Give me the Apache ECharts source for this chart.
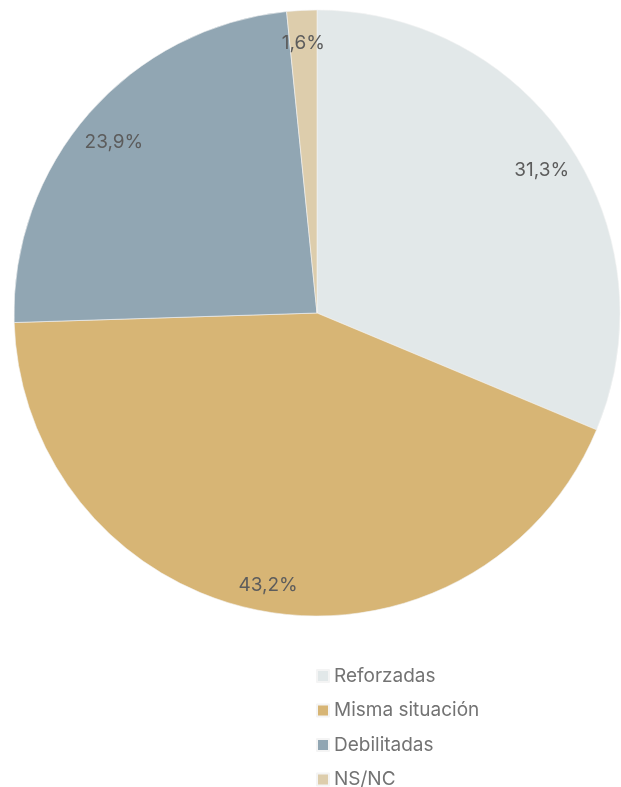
<!DOCTYPE html>
<html><head><meta charset="utf-8">
<script src="https://cdn.jsdelivr.net/npm/echarts@6/dist/echarts.min.js"></script>
<style>html,body{margin:0;padding:0;background:#fff}#c{width:621px;height:787px}</style>
</head><body><div id="c"></div>
<script>
const categories = ['Reforzadas', 'Misma situación', 'Debilitadas', 'NS/NC'];
const values = [31.3, 43.2, 23.9, 1.6];
const colors = ['#e2e8e9', '#d7b575', '#91a6b3', '#ddcdac'];

const data = categories.map((n, i) => ({ name: n, value: values[i], itemStyle: { color: colors[i] } }));
const labelData = categories.map((n, i) => ({
  name: n, value: values[i],
  label: { offset: values[i] < 5 ? [0, 0] : [0, 7] }
}));
const font = 'Inter, Roboto, sans-serif';

const chart = echarts.init(document.getElementById('c'));
chart.setOption({
  animation: false,
  legend: {
    orient: 'vertical', left: 311, top: 661, height: 125,
    icon: 'rect', itemWidth: 12, itemHeight: 12, itemGap: 14.5,
    data: categories,
    textStyle: { fontFamily: font, fontSize: 19, color: '#737373', lineHeight: 20 }
  },
  series: [
    {
      type: 'pie', center: [317, 313], radius: [0, 303],
      startAngle: 90, clockwise: true,
      data: data, label: { show: false }, labelLine: { show: false },
      itemStyle: { borderColor: '#f4f4f4', borderWidth: 0.6 },
      emphasis: { disabled: true }
    },
    {
      type: 'pie', center: [317, 313], radius: [231, 303],
      startAngle: 90, clockwise: true, silent: true,
      data: labelData,
      itemStyle: { color: 'rgba(0,0,0,0)' },
      label: {
        show: true, position: 'inside',
        formatter: p => String(p.value).replace('.', ',') + '%',
        fontFamily: font, fontSize: 19, color: '#5c5c5c'
      },
      labelLine: { show: false },
      emphasis: { disabled: true }
    }
  ]
});
</script></body></html>
